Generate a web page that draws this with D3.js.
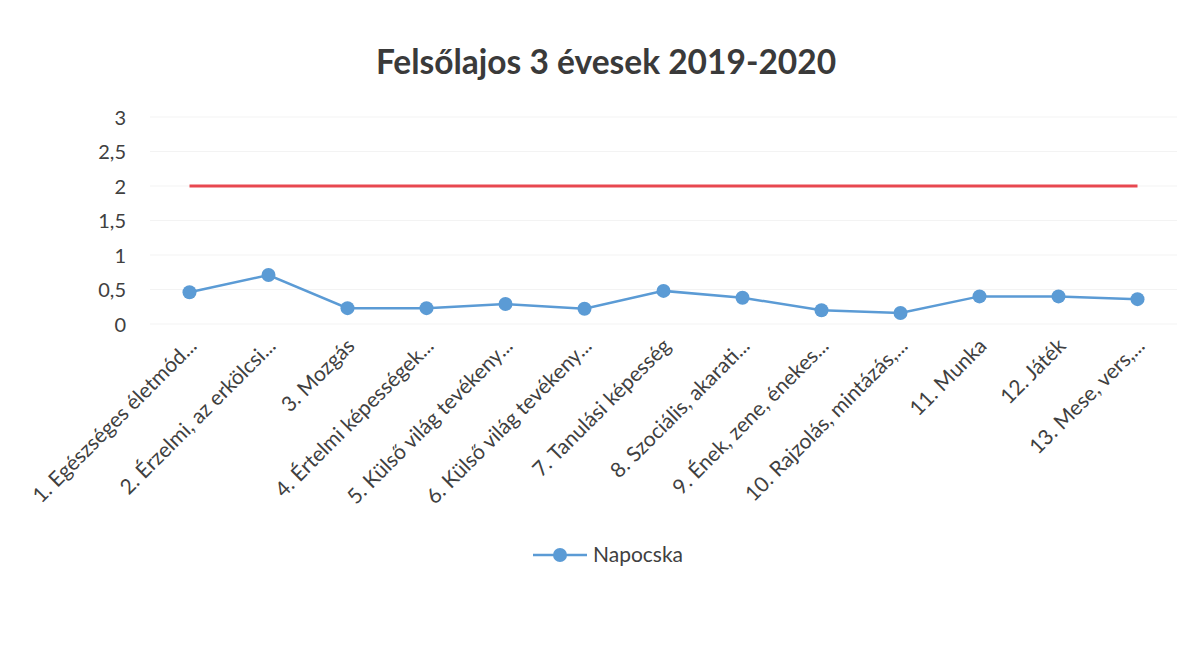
<!DOCTYPE html>
<html><head><meta charset="utf-8">
<script src="https://cdn.jsdelivr.net/npm/d3@7"></script>
<style>body{margin:0;background:#fff;} svg{display:block;font-family:Lato,"Open Sans",sans-serif;}</style>
</head><body>
<svg id="c" width="1192" height="668"></svg>
<script>
const title = "Felsőlajos 3 évesek 2019-2020";
const categories = ["1. Egészséges életmód...","2. Érzelmi, az erkölcsi...","3. Mozgás","4. Értelmi képességek...","5. Külső világ tevékeny...","6. Külső világ tevékeny...","7. Tanulási képesség","8. Szociális, akarati...","9. Ének, zene, énekes...","10. Rajzolás, mintázás,...","11. Munka","12. Játék","13. Mese, vers,..."];
const napocska = [0.46,0.71,0.23,0.23,0.29,0.22,0.48,0.38,0.20,0.16,0.40,0.40,0.36];
const target = [2,2,2,2,2,2,2,2,2,2,2,2,2];
const yTicks = [0,0.5,1,1.5,2,2.5,3];
const seriesName = "Napocska";

const svg = d3.select("#c");
const x = d3.scaleBand().domain(categories).range([150,1177]);
const y = d3.scaleLinear().domain([0,3]).range([324,117]);
const fmt = d => String(d).replace(".", ",");

svg.append("text").attr("x",606).attr("y",74).attr("text-anchor","middle")
  .attr("font-size",33.5).attr("font-weight","bold").attr("fill","#3a3a3a").text(title);

// grid
svg.append("g").selectAll("line").data(yTicks).join("line")
  .attr("x1",150).attr("x2",1177).attr("y1",d=>y(d)).attr("y2",d=>y(d))
  .attr("stroke","#f3f3f3").attr("stroke-width",1);

// y axis
const ya = svg.append("g").attr("transform","translate(126,0)")
  .call(d3.axisLeft(y).tickValues(yTicks).tickFormat(fmt).tickSize(0).tickPadding(0));
ya.select(".domain").remove();
ya.selectAll("text").attr("font-size",20).attr("fill","#404040").attr("font-family","Lato,'Open Sans',sans-serif").attr("dy","0.35em");

// x axis
const xa = svg.append("g").attr("transform","translate(0,336)")
  .call(d3.axisBottom(x).tickSize(0).tickPadding(0));
xa.select(".domain").remove();
xa.selectAll("text").attr("font-size",21).attr("fill","#404040").attr("font-family","Lato,'Open Sans',sans-serif")
  .attr("text-anchor","end").attr("dy",14).attr("dx",-2)
  .attr("transform","rotate(-45)");

const cx = d => x(d) + x.bandwidth()/2;

// red target line
svg.append("path").datum(target.map((v,i)=>[categories[i],v]))
  .attr("fill","none").attr("stroke","#e84850").attr("stroke-width",3)
  .attr("d", d3.line().x(d=>cx(d[0])).y(d=>y(d[1])));

// blue series
svg.append("path").datum(napocska.map((v,i)=>[categories[i],v]))
  .attr("fill","none").attr("stroke","#5b9bd5").attr("stroke-width",2.5)
  .attr("d", d3.line().x(d=>cx(d[0])).y(d=>y(d[1])));
svg.append("g").selectAll("circle").data(napocska.map((v,i)=>[categories[i],v])).join("circle")
  .attr("cx",d=>cx(d[0])).attr("cy",d=>y(d[1])).attr("r",7).attr("fill","#5b9bd5");

// legend
const lg = svg.append("g").attr("transform","translate(533,555)");
lg.append("line").attr("x1",0).attr("x2",54).attr("stroke","#5b9bd5").attr("stroke-width",2.5);
lg.append("circle").attr("cx",27).attr("r",7).attr("fill","#5b9bd5");
lg.append("text").attr("x",60).attr("dy","0.35em").attr("font-size",21).attr("fill","#404040").text(seriesName);
</script>
</body></html>
